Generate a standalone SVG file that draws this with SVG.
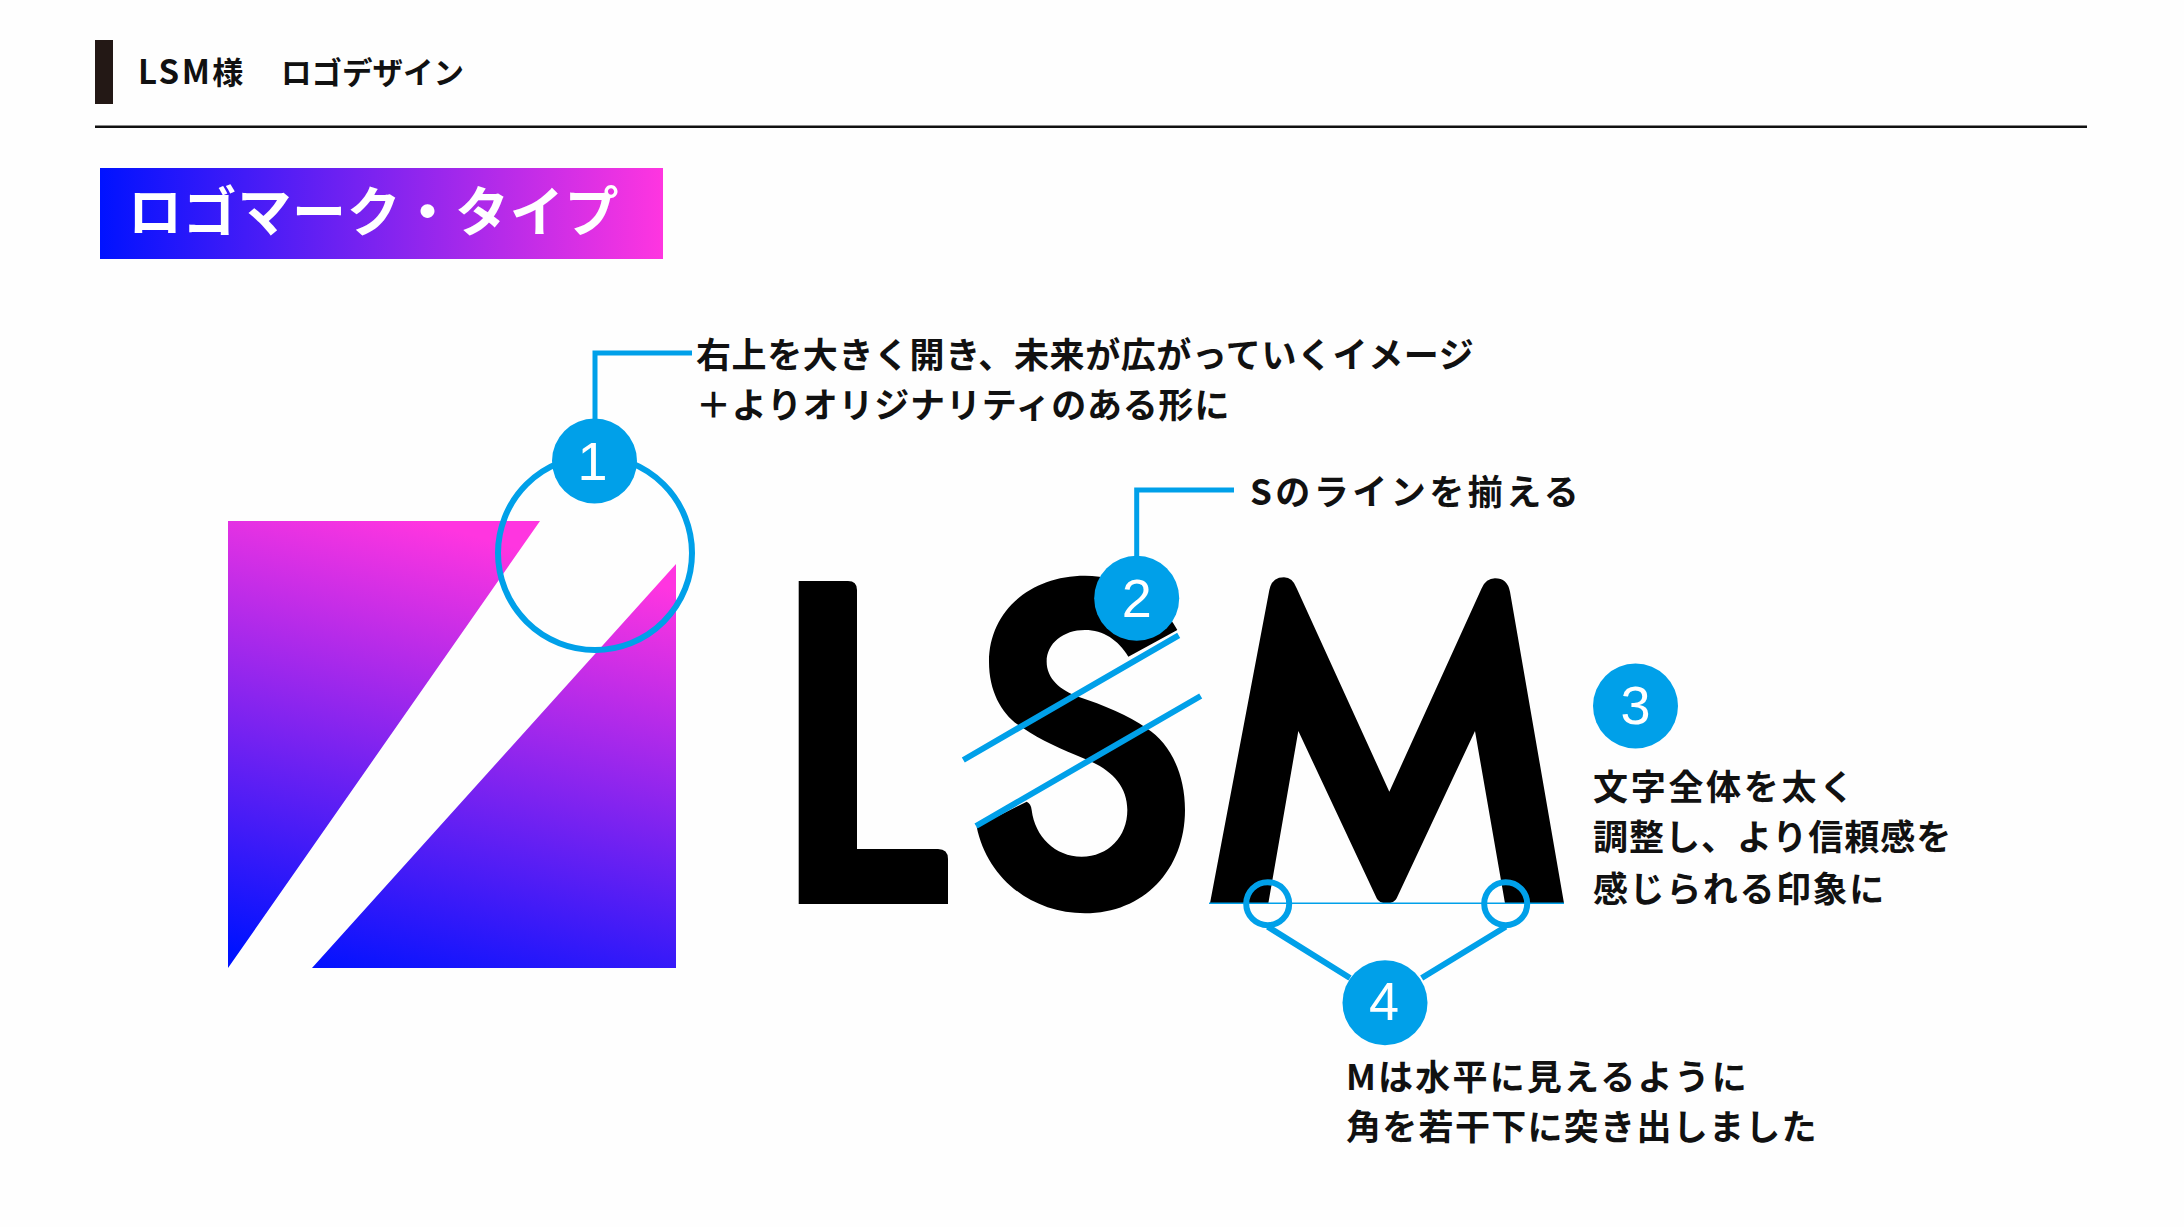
<svg xmlns="http://www.w3.org/2000/svg" width="2184" height="1227" viewBox="0 0 2184 1227">
<defs>
<linearGradient id="gb" x1="100" x2="663" y1="0" y2="0" gradientUnits="userSpaceOnUse"><stop offset="0" stop-color="#0012ff"/><stop offset="1" stop-color="#ff35e0"/></linearGradient>
<linearGradient id="gm" x1="300" x2="420" y1="968" y2="521" gradientUnits="userSpaceOnUse"><stop offset="0" stop-color="#0012ff"/><stop offset="1" stop-color="#ff35e0"/></linearGradient>
</defs>
<style>
text{font-family:"Noto Sans CJK JP","Noto Sans",sans-serif;font-weight:700;fill:#111}
.l{font-size:35px}
.n{font-family:"Liberation Sans",sans-serif;font-weight:400;font-size:54px;fill:#fff;text-anchor:middle}
.b{fill:#00a0e9}
.s{fill:none;stroke:#00a0e9;stroke-width:6}
</style>
<rect width="2184" height="1227" fill="#fefefe"/>
<g id="header">
<rect x="95" y="40" width="18" height="64" fill="#231815"/>
<text x="138" y="84" font-size="33" letter-spacing="2.500" fill="#231815">LSM<tspan font-size="31">様</tspan></text>
<text x="281" y="84" font-size="30.500" fill="#231815">ロゴデザイン</text>
<rect x="95" y="125.500" width="1992" height="2.500" fill="#111"/>
</g>
<g id="banner">
<rect x="100" y="168" width="563" height="91" fill="url(#gb)"/>
<text x="128" y="232" font-size="54" letter-spacing=".7" style="fill:#fff">ロゴマーク・タイプ</text>
</g>
<g id="logomark">
<path d="M228 521H540L228 968Z M312 968L676 564V968Z" fill="url(#gm)"/>
</g>
<g id="logotype">
<path d="M798.700 581H848Q857 581 857 590V849H938Q948 849 948 859V904H798.700Z"/>
<path transform="translate(770 540) scale(.33333)" d="M1222 270C1170 170 1060 107 945 107C780 107 657 215 657 365C657 460 700 530 760 565C810 600 880 630 940 655C1020 685 1072 735 1072 810C1072 890 1015 950 935 950C855 950 795 890 785 810Q783 790 770 785L620 860C650 1010 780 1120 945 1120C1120 1120 1245 990 1245 810C1245 700 1200 610 1130 565C1075 525 1000 495 925 470C870 450 830 415 830 365C830 310 880 270 945 270C1000 270 1045 300 1075 350Z"/>
<path transform="translate(1180 560) scale(.33333)" d="M90 1030L268 90Q275 52 312 52Q338 52 350 85L628 695L905 85Q918 55 945 55Q982 55 990 95L1152 1030H975L885 513L650 1015Q643 1030 620 1030Q597 1030 590 1015L355 513L265 1030Z"/>
</g>
<g id="connectors">
<path class="s" d="M595 420V353H692" style="stroke-width:5"/>
<path class="s" d="M1136.700 560V490H1234" style="stroke-width:5"/>
<circle class="s" cx="595" cy="553" r="97"/>
<path class="s" d="M963.300 760L1178.700 635.300M976 826L1200.700 696"/>
<path d="M1209 903.300H1564" fill="none" stroke="#00a0e9" stroke-width="1.500"/>
<circle class="s" cx="1267.700" cy="903.700" r="21.500"/>
<circle class="s" cx="1505.700" cy="903.700" r="21.500"/>
<path class="s" d="M1267.700 926.700L1350 978M1505.700 926.700L1421.700 978"/>
</g>
<g id="node1"><circle class="b" cx="594.500" cy="461" r="42.500"/><text class="n" x="592.500" y="480">1</text></g>
<g id="node2"><circle class="b" cx="1136.700" cy="598.300" r="42.500"/><text class="n" x="1136.700" y="617">2</text></g>
<g id="node3"><circle class="b" cx="1635.500" cy="706" r="42.500"/><text class="n" x="1635.500" y="724">3</text></g>
<g id="node4"><circle class="b" cx="1385" cy="1002.700" r="42.500"/><text class="n" x="1384" y="1020">4</text></g>
<g id="label1"><text class="l" x="696" y="368" letter-spacing=".6">右上を大きく開き、未来が広がっていくイメージ</text><text class="l" x="696" y="418" letter-spacing=".8">＋よりオリジナリティのある形に</text></g>
<g id="label2"><text class="l" x="1250" y="505" letter-spacing="3.500">Sのラインを揃える</text></g>
<g id="label3"><text class="l" x="1593" y="800" letter-spacing="2.700">文字全体を太く</text><text class="l" x="1593" y="850" letter-spacing="1">調整し、より信頼感を</text><text class="l" x="1593" y="902" letter-spacing="1.600">感じられる印象に</text></g>
<g id="label4"><text class="l" x="1346" y="1090" letter-spacing="2.200">Mは水平に見えるように</text><text class="l" x="1346" y="1140" letter-spacing="1.300">角を若干下に突き出しました</text></g>
</svg>
